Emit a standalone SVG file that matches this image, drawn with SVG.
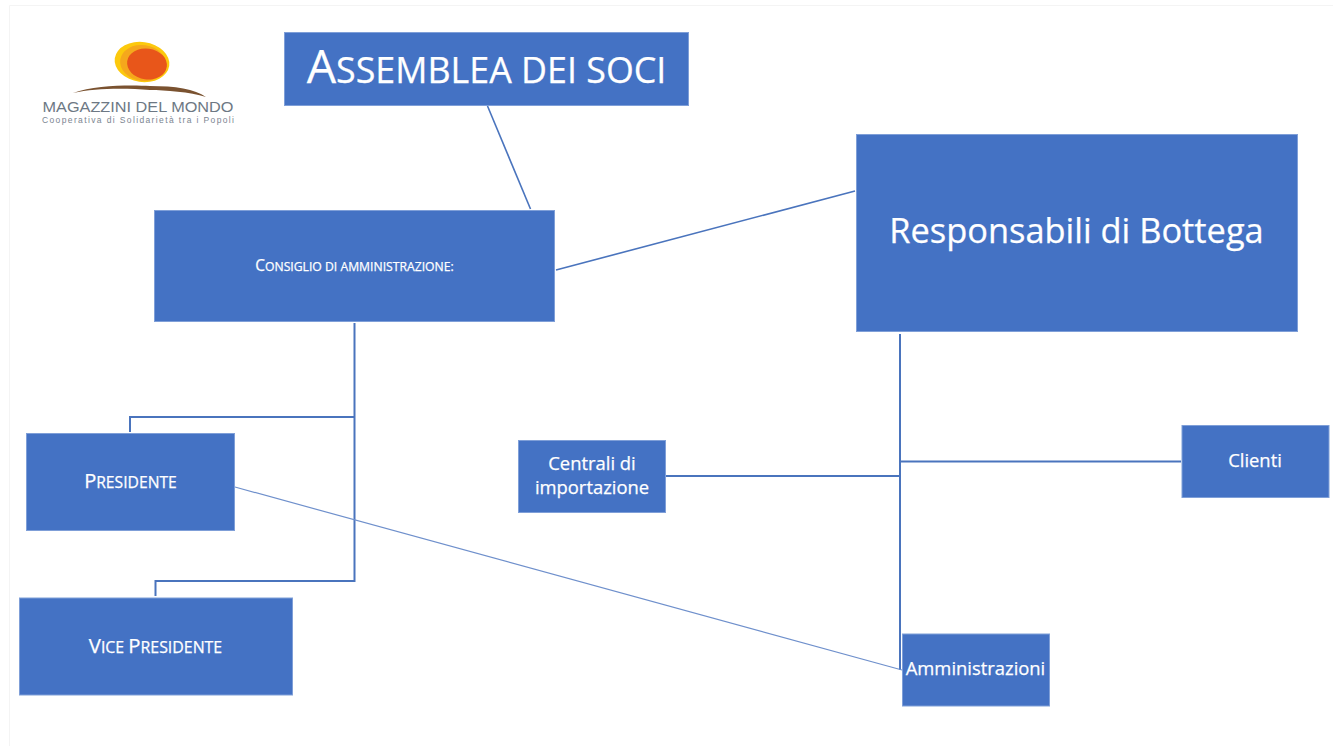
<svg xmlns="http://www.w3.org/2000/svg" width="1333" height="746" viewBox="0 0 1333 746">
<style>
.n{fill:#4472c4;stroke:#7f9fd8;stroke-width:1}
.t{fill:#fff;stroke:#fff;stroke-width:.25;font-family:"Open Sans","Noto Sans",sans-serif;text-anchor:middle}
.c{fill:none;stroke:#4a74bd;stroke-width:2}
.d{fill:none;stroke:#4a74bd;stroke-width:1.600}
.c2{fill:none;stroke:#6f90cc;stroke-width:1.200}
</style>
<rect width="1333" height="746" fill="#fff"/>
<path d="M9.500 746V5.500H1333" fill="none" stroke="#f4f4f4"/>
<g id="logo">
<ellipse cx="142" cy="62" rx="27.500" ry="20" fill="#fcc90d" transform="rotate(8 142 62)"/>
<ellipse cx="143" cy="63" rx="23" ry="18" fill="#f5a81c" transform="rotate(8 143 63)"/>
<ellipse cx="147" cy="64" rx="20" ry="15.500" fill="#e8561a" transform="rotate(8 147 64)"/>
<path d="M73 93C95 85 130 85 150 86C175 86 195 89 206 97C190 92 165 90 150 90C125 88 95 88 73 93Z" fill="#7a5230"/>
<text x="138" y="112" text-anchor="middle" font-family="'Liberation Sans',sans-serif" font-size="15" fill="#6d7884" textLength="191" lengthAdjust="spacingAndGlyphs">MAGAZZINI DEL MONDO</text>
<text x="138" y="123" text-anchor="middle" font-family="'Liberation Sans',sans-serif" font-size="8.500" fill="#7b8591" textLength="192" lengthAdjust="spacing">Cooperativa di Solidarietà tra i Popoli</text>
</g>
<g id="connectors">
<path class="d" d="M487.500 106L530.500 209"/>
<path class="d" d="M556 270L855 191"/>
<path class="c" d="M354.500 323V581H155.500V596"/>
<path class="c" d="M354.500 417H130V432"/>
<path class="c" d="M900 334V670"/>
<path class="c" d="M666 476H900"/>
<path class="c" d="M900 461.500H1181"/>
<path class="c2" d="M235 487L902 670"/>
</g>
<g id="assemblea"><rect class="n" x="284.500" y="32.500" width="404" height="73"/>
<text class="t" x="486.500" y="83" font-size="35.800"><tspan font-size="46.500">A</tspan>SSEMBLEA DEI SOCI</text></g>
<g id="consiglio"><rect class="n" x="154.500" y="210.500" width="400" height="111"/>
<text class="t" x="354.500" y="270.500" font-size="12.200"><tspan font-size="15.400">C</tspan>ONSIGLIO DI AMMINISTRAZIONE:</text></g>
<g id="responsabili"><rect class="n" x="856.500" y="134.500" width="441" height="197"/>
<text class="t" x="1076.500" y="243" font-size="34.400">Responsabili di Bottega</text></g>
<g id="presidente"><rect class="n" x="26.500" y="433.500" width="208" height="97"/>
<text class="t" x="130.500" y="488" font-size="15.700"><tspan font-size="20">P</tspan>RESIDENTE</text></g>
<g id="vicepresidente"><rect class="n" x="19.500" y="598" width="273" height="97"/>
<text class="t" x="155.500" y="653" font-size="15.900"><tspan font-size="20.300">V</tspan>ICE <tspan font-size="20.300">P</tspan>RESIDENTE</text></g>
<g id="centrali"><rect class="n" x="518.500" y="440.500" width="147" height="72"/>
<text class="t" x="592" y="470" font-size="18.400">Centrali di</text>
<text class="t" x="592" y="494" font-size="18.400">importazione</text></g>
<g id="clienti"><rect class="n" x="1182" y="425.500" width="147" height="72"/>
<text class="t" x="1255" y="467" font-size="18.400">Clienti</text></g>
<g id="amministrazioni"><rect class="n" x="902.500" y="634" width="147" height="72"/>
<text class="t" x="975.500" y="675" font-size="18.400">Amministrazioni</text></g>
</svg>
